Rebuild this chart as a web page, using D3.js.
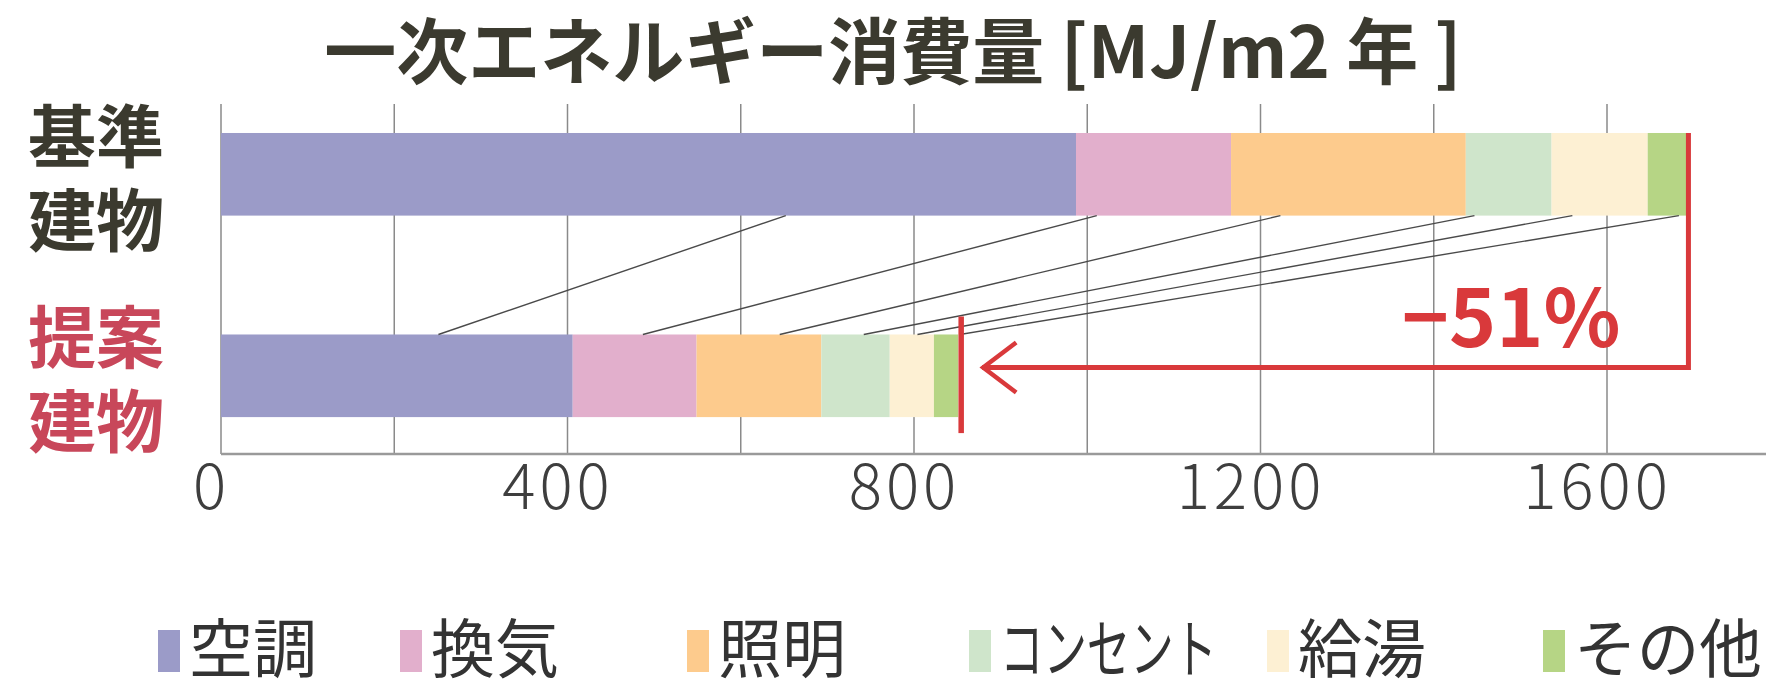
<!DOCTYPE html>
<html lang="ja">
<head>
<meta charset="utf-8">
<script src="https://cdn.jsdelivr.net/npm/d3@7"></script>
<style>
  html, body { margin: 0; padding: 0; background: #fff; overflow: hidden; }
  svg { display: block; }
  text { font-family: "Noto Sans CJK JP", "Noto Sans", sans-serif; }
</style>
</head>
<body>
<div id="graph"></div>
<script>
//chart values
var title = "一次エネルギー消費量 [MJ/m2 年 ]";
var buildings = ["基準建物", "提案建物"];
var buildingLines = [["基準", "建物"], ["提案", "建物"]];
var uses = ["空調", "換気", "照明", "コンセント", "給湯", "その他"];
var baseValues = [987, 179, 271, 99, 111, 47];
var proposalValues = [406, 143, 144, 79, 51, 28];
var xTicks = [0, 400, 800, 1200, 1600];
var gridTicks = [0, 200, 400, 600, 800, 1000, 1200, 1400, 1600];
//where the thin connector lines touch each bar (MJ/m2)
var linkTopValues = [652, 1011, 1223, 1447, 1560, 1683];
var linkBottomValues = [251, 487, 645, 742, 804, 853];
var reductionLabel = "\u221251%";

//styles
var useColors = ["#9b9bc8", "#e2afcc", "#fdcb8d", "#cfe5cb", "#fdf0d3", "#b6d585"];
var labelColors = ["#3b3a2f", "#c8475a"];
var red = "#d9393b";
var legendX = [158, 400, 687, 969, 1267, 1543];

var width = 1766, height = 681;

//build stacked rows
var rows = buildings.map(function(b, i) {
    var vals = i === 0 ? baseValues : proposalValues;
    var row = {building: b};
    uses.forEach(function(u, j) { row[u] = vals[j]; });
    return row;
});
var series = d3.stack().keys(uses)(rows);
var totals = [d3.sum(baseValues), d3.sum(proposalValues)];

//scales
var x = d3.scaleLinear().domain([0, 1600]).range([221, 1607]);
var y = d3.scaleBand().domain(buildings).range([104, 454])
    .paddingInner(0.59).paddingOuter(0.1635).align(0.44);
var bw = y.bandwidth();

var svg = d3.select("#graph").append("svg")
    .attr("width", width)
    .attr("height", height);

//title
svg.append("text")
    .attr("x", 893)
    .attr("y", 78)
    .attr("text-anchor", "middle")
    .attr("font-size", 72)
    .attr("font-weight", 700)
    .attr("fill", "#3b3a2f")
    .text(title);

//grid lines
svg.append("g").selectAll("line")
    .data(gridTicks)
    .enter().append("line")
    .attr("x1", function(d){ return x(d); })
    .attr("x2", function(d){ return x(d); })
    .attr("y1", 104)
    .attr("y2", 454)
    .attr("stroke", "#8a8a8a")
    .attr("stroke-width", 1.5);

//axis base line and tick labels
var axis = d3.axisBottom(x).tickValues(xTicks).tickFormat(d3.format("d"))
    .tickSize(0).tickPadding(0);
var axisG = svg.append("g")
    .attr("transform", "translate(0,454)")
    .call(axis);
axisG.select(".domain").remove();
axisG.selectAll("text")
    .attr("font-family", "'Open Sans', sans-serif")
    .attr("font-weight", 300)
    .attr("font-size", 62)
    .attr("letter-spacing", "4px")
    .attr("fill", "#3e3e3e")
    .attr("dx", "-10")
    .attr("dy", 0)
    .attr("y", 55);
svg.append("line")
    .attr("x1", x(0)).attr("x2", width)
    .attr("y1", 454).attr("y2", 454)
    .attr("stroke", "#9a9a9a")
    .attr("stroke-width", 2.5);

//stacked bars
svg.append("g").selectAll("g")
    .data(series)
    .enter().append("g")
    .attr("fill", function(d, i){ return useColors[i]; })
    .selectAll("rect")
    .data(function(d){ return d; })
    .enter().append("rect")
    .attr("x", function(d){ return x(d[0]); })
    .attr("y", function(d){ return y(d.data.building); })
    .attr("width", function(d){ return x(d[1]) - x(d[0]); })
    .attr("height", bw);

//connector lines between bars
var topBottom = y(buildings[0]) + bw;
var bottomTop = y(buildings[1]);
svg.append("g").selectAll("line")
    .data(linkTopValues)
    .enter().append("line")
    .attr("x1", function(d){ return x(d); })
    .attr("y1", topBottom)
    .attr("x2", function(d, i){ return x(linkBottomValues[i]); })
    .attr("y2", bottomTop)
    .attr("stroke", "#4a4a4a")
    .attr("stroke-width", 1.4);

//building labels, two lines each
buildings.forEach(function(b, i) {
    buildingLines[i].forEach(function(line, k) {
        svg.append("text")
            .attr("x", x(0) - 125)
            .attr("y", y(b) + bw / 2 + (k === 0 ? -42 : 42))
            .attr("text-anchor", "middle")
            .attr("dominant-baseline", "central")
            .attr("font-size", 68)
            .attr("font-weight", 700)
            .attr("fill", labelColors[i])
            .text(line);
    });
});

//reduction annotation
var xTop = x(totals[0]);
var xBottom = x(totals[1]);
var arrowY = bottomTop + bw * 0.4;
var redG = svg.append("g")
    .attr("stroke", red)
    .attr("fill", "none")
    .attr("stroke-width", 5);
redG.append("path")
    .attr("d", "M" + xTop + "," + y(buildings[0]) + " L" + xTop + "," + arrowY +
        " L" + (xBottom + 24) + "," + arrowY);
redG.append("path")
    .attr("stroke-width", 4.5)
    .attr("d", "M" + (xBottom + 58) + "," + (arrowY - 25) + " L" + (xBottom + 25) + "," + arrowY +
        " L" + (xBottom + 58) + "," + (arrowY + 25));
redG.append("line")
    .attr("x1", xBottom + 3).attr("x2", xBottom + 3)
    .attr("y1", bottomTop - 18).attr("y2", bottomTop + bw + 16)
    .attr("stroke-width", 5.5);
svg.append("text")
    .attr("x", xTop - 68)
    .attr("y", arrowY - 21)
    .attr("text-anchor", "end")
    .attr("font-size", 80)
    .attr("font-weight", 700)
    .attr("fill", red)
    .text(reductionLabel);

//legend
var legend = svg.append("g").selectAll("g")
    .data(uses)
    .enter().append("g")
    .attr("transform", function(d, i){ return "translate(" + legendX[i] + ",648)"; });
legend.append("rect")
    .attr("x", 0)
    .attr("y", -18)
    .attr("width", 22)
    .attr("height", 42)
    .attr("fill", function(d, i){ return useColors[i]; });
legend.append("g")
    .attr("transform", "translate(31,0)")
    .append("text")
    .attr("y", -4)
    .attr("dominant-baseline", "central")
    .attr("font-size", 64)
    .attr("font-weight", 400)
    .attr("fill", "#333")
    .text(function(d){ return d; })
    .each(function(d, i) {
        //squeeze long labels so they fit before the next swatch
        var room = i < uses.length - 1 ?
            legendX[i + 1] - legendX[i] - 31 - 50 :
            width - legendX[i] - 31 - 4;
        var w = this.getComputedTextLength();
        if (w > room) {
            d3.select(this.parentNode)
                .attr("transform", "translate(31,0) scale(" + (room / w) + ",1)");
        }
    });
</script>
</body>
</html>
